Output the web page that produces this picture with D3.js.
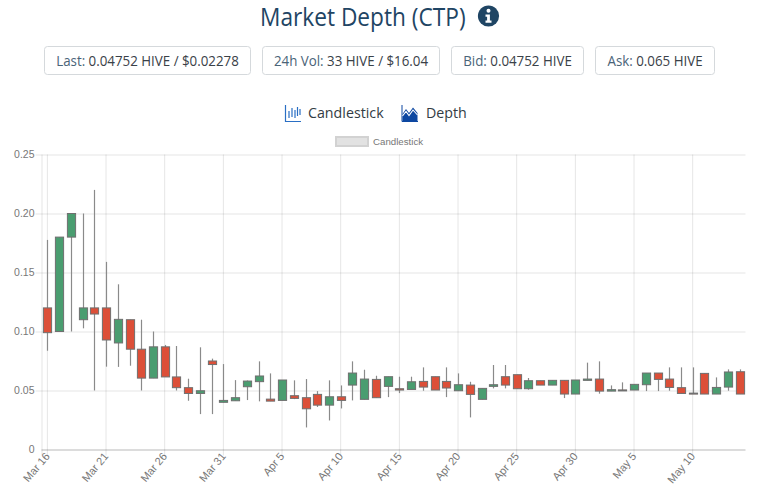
<!DOCTYPE html>
<html><head><meta charset="utf-8">
<script src="https://cdn.jsdelivr.net/npm/d3@7/dist/d3.min.js"></script>
<style>html,body{margin:0;padding:0;background:#fff}svg{display:block}</style>
</head><body><svg id="c" width="768" height="503"></svg>
<script>
const startDate = "2021-03-16";
const opens  = [.12,.10,.18,.11,.12,.12,.0903,.11,.085,.0605,.087,.0615,.0524,.0475,.075,.04,.0413,.0532,.0575,.0427,.0416,.0456,.0439,.0467,.0376,.0447,.0546,.0425,.0594,.0535,.0515,.0509,.0577,.0617,.0577,.0498,.0546,.0425,.0535,.0617,.0634,.0515,.0583,.0546,.0586,.047,.0586,.0597,.0495,.0505,.0504,.0549,.0648,.0597,.0524,.0478,.0645,.047,.0529,.0659];
const highs  = [.1776,.18,.20,.20,.22,.159,.14,.11,.11,.10,.0886,.0877,.06,.0866,.077,.0724,.0588,.0585,.0747,.0645,.0589,.0586,.0597,.0495,.0586,.0543,.0747,.0676,.0625,.0617,.0617,.0617,.0696,.0617,.0696,.0645,.0574,.0518,.0716,.0716,.0634,.0606,.0583,.0586,.0586,.0589,.0736,.0747,.0543,.0569,.0552,.0648,.0648,.0696,.0696,.0696,.0645,.0611,.0679,.0679];
const lows   = [.0837,.10,.10,.1027,.05,.0702,.07,.071,.05,.0605,.0615,.05,.0413,.03,.03,.04,.0413,.0419,.0408,.041,.0416,.0427,.0187,.036,.0246,.0348,.0416,.0425,.0439,.0444,.0478,.0509,.0498,.0504,.0444,.0498,.0272,.0425,.0518,.0518,.0515,.0507,.0546,.0546,.0436,.047,.0586,.0473,.0495,.05,.0504,.0495,.0495,.0498,.0475,.0473,.047,.047,.0498,.047];
const closes = [.099,.18,.20,.12,.1148,.0928,.1103,.085,.0605,.087,.0615,.0524,.0475,.0498,.072,.0416,.0439,.058,.0623,.041,.0589,.0433,.0345,.0376,.0447,.0416,.0648,.0597,.0439,.0617,.0504,.0574,.0529,.0504,.0521,.0549,.0467,.0518,.0549,.0546,.0515,.0583,.0546,.0586,.047,.0589,.0597,.0495,.0507,.0503,.0552,.0648,.0594,.0526,.0475,.0473,.047,.0526,.0657,.047];
const yTicks = [0,.05,.10,.15,.20,.25];
const yTickLabels = ["0","0.05","0.10","0.15","0.20","0.25"];
const stats = [["Last: ","0.04752 HIVE / $0.02278"],["24h Vol: ","33 HIVE / $16.04"],["Bid: ","0.04752 HIVE"],["Ask: ","0.065 HIVE"]];
const statBoxes = [[44,251],[262,440],[451,584],[595,715]];
const tabLabels = ["Candlestick","Depth"];
const titleText = "Market Depth (CTP)";
const legendLabel = "Candlestick";

const svg = d3.select("#c");
const ui = "'Open Sans',sans-serif", chartFont = "'Liberation Sans',Arial,sans-serif";
const navy = "#1f4564";

// header
svg.append("text").attr("transform","translate(260,26) scale(.89,1)").attr("font-family",ui).attr("font-size",25.5).attr("fill",navy).text(titleText);
const info = svg.append("g").attr("transform","translate(488.5,16)");
info.append("circle").attr("r",10.6).attr("fill",navy);
info.append("circle").attr("cy",-5.2).attr("r",2).attr("fill","#fff");
info.append("path").attr("d","M-3,-1.6H1.4V4.4H3V6.8H-3V4.4H-1.4V0.8H-3Z").attr("fill","#fff");

const sb = svg.append("g");
stats.forEach((s,i)=>{
  const [x0,x1]=statBoxes[i];
  sb.append("rect").attr("x",x0+.5).attr("y",46.5).attr("width",x1-x0-1).attr("height",28).attr("rx",3)
    .attr("fill","#fff").attr("stroke","#d5d9dc");
  const t=sb.append("text").attr("transform",`translate(${(x0+x1)/2},65.5) scale(.953,1)`).attr("text-anchor","middle")
    .attr("font-family",ui).attr("font-size",14);
  t.append("tspan").attr("fill","#4a6478").text(s[0]);
  t.append("tspan").attr("fill","#3a4148").text(s[1]);
});

// tabs
const blue="#2a6fc4";
const ic1=svg.append("g").attr("transform","translate(285,105)");
ic1.append("path").attr("d","M.5,0V16.5H16").attr("fill","none").attr("stroke",blue).attr("stroke-width",1.2);
ic1.append("path").attr("d","M4,6V13M7,3V12M10,5V13M12.5,2V11M15,4V10").attr("fill","none").attr("stroke",blue).attr("stroke-width",1.2);
svg.append("text").attr("transform","translate(308,118) scale(.95,1)").attr("font-family",ui).attr("font-size",15).attr("fill","#333c44").text(tabLabels[0]);
const ic2=svg.append("g").attr("transform","translate(402,105)");
ic2.append("path").attr("d","M0,0V16.5H16").attr("fill","none").attr("stroke","#0d47a1").attr("stroke-width",1);
ic2.append("path").attr("d","M.5,16V9L4,4L7,8L11,2.5L15.5,8V16Z").attr("fill","#0d47a1");
ic2.append("path").attr("d","M.5,11L4,6.5L7,10.5L11,5L15.5,10").attr("fill","none").attr("stroke","#fff").attr("stroke-width",1.1);
svg.append("text").attr("transform","translate(426,118) scale(.95,1)").attr("font-family",ui).attr("font-size",15).attr("fill","#333c44").text(tabLabels[1]);

// legend
svg.append("rect").attr("x",336).attr("y",137).attr("width",32).attr("height",9).attr("fill","#e2e2e2").attr("stroke","#d2d2d2").attr("stroke-width",2);
svg.append("text").attr("x",373).attr("y",145).attr("font-family",chartFont).attr("font-size",9.7).attr("fill","#777").text(legendLabel);

// chart
const parse=d3.utcParse("%Y-%m-%d");
const start=parse(startDate);
const dates=opens.map((_,i)=>d3.utcDay.offset(start,i));
const plotL=41.5,plotR=745.5,plotT=154.5,plotB=449.5;
const x=d3.scaleBand().domain(dates).range([plotL,plotR]);
const y=d3.scaleLinear().domain([0,.25]).range([plotB,plotT]);
const fmt=d3.utcFormat("%b %-d");
const tickDates=dates.filter((_,i)=>i%5===0);
const grid="rgba(0,0,0,0.1)";

const gy=svg.append("g").attr("transform",`translate(${plotL},0)`)
  .call(d3.axisLeft(y).tickValues(yTicks).tickFormat((d,i)=>yTickLabels[i]).tickSize(6).tickPadding(1));
gy.select(".domain").attr("stroke",grid).attr("d",`M0.5,${plotT}V${plotB+6}`);
gy.selectAll(".tick line").attr("stroke",grid).attr("x2",plotR-plotL).attr("x1",-6);
gy.selectAll(".tick").filter(d=>d===0).select("line").attr("stroke","rgba(0,0,0,0.28)").attr("x1",0);
gy.selectAll("text").attr("font-family",chartFont).attr("font-size",10.5).attr("fill","#777");

const gx=svg.append("g").attr("transform",`translate(0,${plotB})`)
  .call(d3.axisBottom(x).tickValues(tickDates).tickFormat(fmt).tickSize(6));
gx.select(".domain").remove();
gx.selectAll(".tick line").attr("stroke",grid).attr("y1",-(plotB-plotT)).attr("y2",6);
gx.selectAll("text").attr("font-family",chartFont).attr("font-size",11).attr("fill","#777")
  .attr("text-anchor","end").attr("dx",0).attr("dy",0).attr("y",0)
  .attr("transform","translate(3,7) rotate(-50)");

const candles=svg.append("g");
const bw=8.2;
dates.forEach((d,i)=>{
  const cx=Math.round(x(d)+x.bandwidth()/2)+.5;
  const up=closes[i]>=opens[i];
  const t=Math.max(opens[i],closes[i]), b=Math.min(opens[i],closes[i]);
  const g=candles.append("g");
  g.append("line").attr("x1",cx).attr("x2",cx).attr("y1",y(highs[i])).attr("y2",y(lows[i]))
    .attr("stroke","#8a8a8a").attr("stroke-width",1.2);
  g.append("rect").attr("x",cx-bw/2).attr("y",y(t)).attr("width",bw).attr("height",Math.max(1,y(b)-y(t)))
    .attr("fill",up?"#4a9d70":"#dc4f38").attr("stroke","#6f6f6f").attr("stroke-width",1);
});
</script></body></html>
